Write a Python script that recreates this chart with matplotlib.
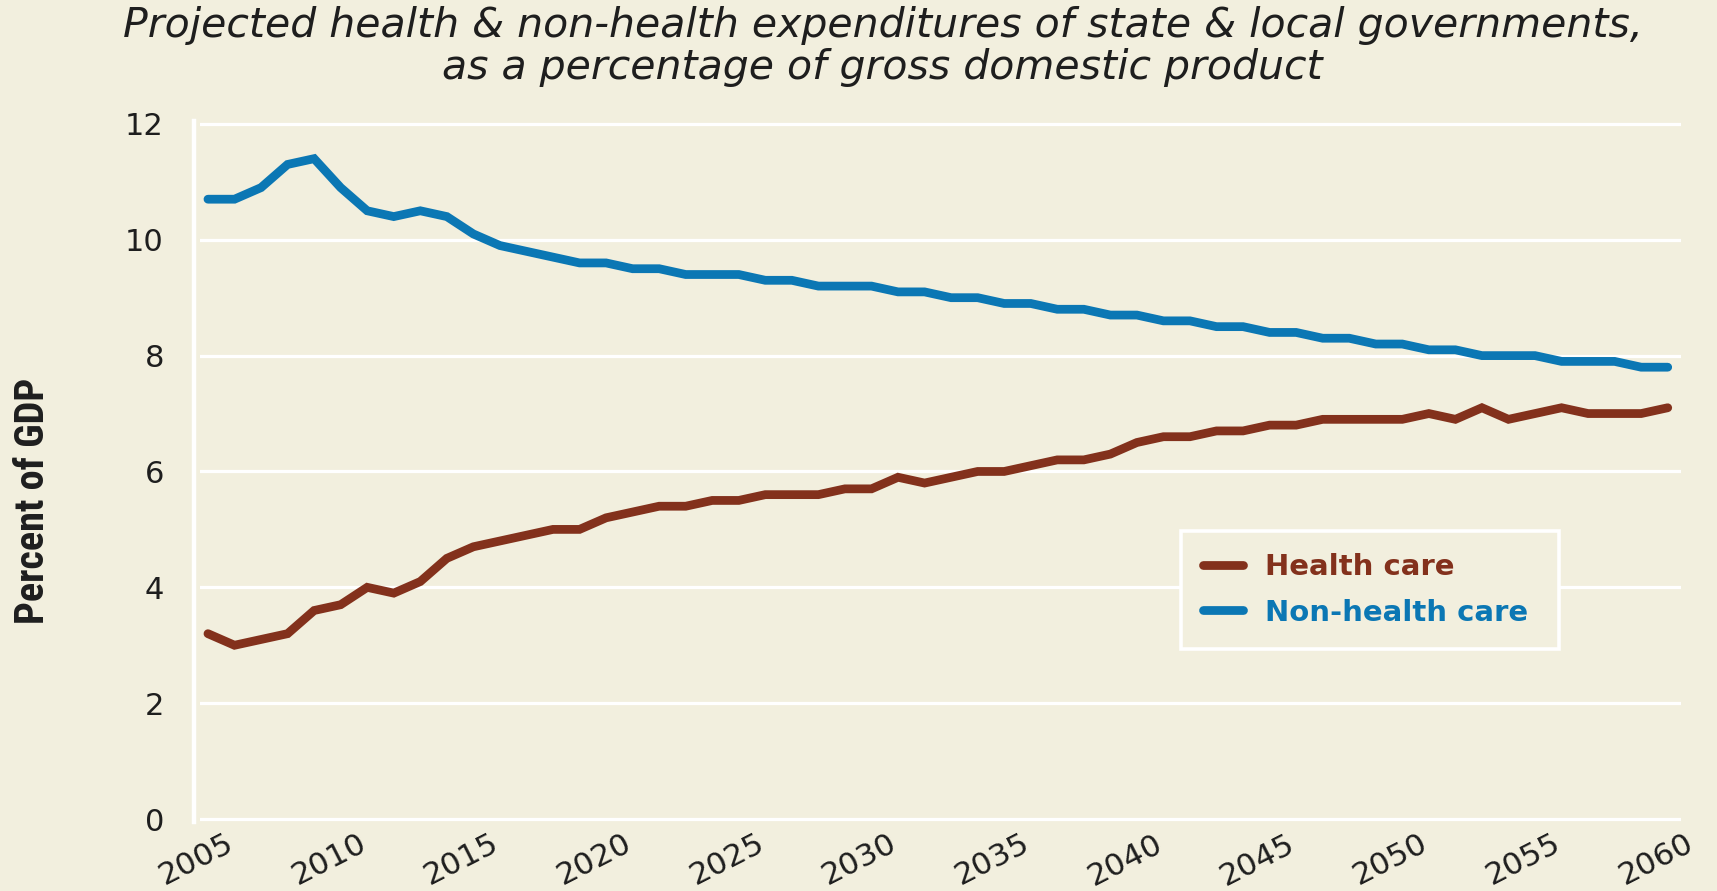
import matplotlib
matplotlib.use('Agg')
import matplotlib.pyplot as plt
from matplotlib.transforms import ScaledTranslation

# ---------------- data ----------------
years = list(range(2005, 2061))

health_care = [3.2, 3.0, 3.1, 3.2, 3.6, 3.7, 4.0, 3.9, 4.1, 4.5,
               4.7, 4.8, 4.9, 5.0, 5.0, 5.2, 5.3, 5.4, 5.4, 5.5,
               5.5, 5.6, 5.6, 5.6, 5.7, 5.7, 5.9, 5.8, 5.9, 6.0,
               6.0, 6.1, 6.2, 6.2, 6.3, 6.5, 6.6, 6.6, 6.7, 6.7,
               6.8, 6.8, 6.9, 6.9, 6.9, 6.9, 7.0, 6.9, 7.1, 6.9,
               7.0, 7.1, 7.0, 7.0, 7.0, 7.1]

non_health_care = [10.7, 10.7, 10.9, 11.3, 11.4, 10.9, 10.5, 10.4, 10.5, 10.4,
                   10.1, 9.9, 9.8, 9.7, 9.6, 9.6, 9.5, 9.5, 9.4, 9.4,
                   9.4, 9.3, 9.3, 9.2, 9.2, 9.2, 9.1, 9.1, 9.0, 9.0,
                   8.9, 8.9, 8.8, 8.8, 8.7, 8.7, 8.6, 8.6, 8.5, 8.5,
                   8.4, 8.4, 8.3, 8.3, 8.2, 8.2, 8.1, 8.1, 8.0, 8.0,
                   8.0, 7.9, 7.9, 7.9, 7.8, 7.8]

series_labels = ['Health care', 'Non-health care']
xtick_years = list(range(2005, 2061, 5))
ytick_values = [0, 2, 4, 6, 8, 10, 12]
title_text = ("Projected health & non-health expenditures of state & local governments,\n"
              "as a percentage of gross domestic product")
ylabel_text = "Percent of GDP"

# ---------------- style ----------------
BG = '#F2EFDE'
BROWN = '#83311C'
BLUE = '#0B77B4'
TXT = '#1E1E1E'
W, H = 1717, 891

fig = plt.figure(figsize=(17.17, 8.91), dpi=100, facecolor=BG)
left_px, right_px = 200, 1681
ax = fig.add_axes([left_px / W, 0.0775, (right_px - left_px) / W, 0.8642 - 0.0775])
ax.set_facecolor(BG)

l1, = ax.plot(years, health_care, color=BROWN, lw=6.3,
              solid_capstyle='round', solid_joinstyle='miter', zorder=3,
              label=series_labels[0])
l2, = ax.plot(years, non_health_care, color=BLUE, lw=6.3,
              solid_capstyle='round', solid_joinstyle='miter', zorder=3,
              label=series_labels[1])

ax.set_xlim(2004.7, 2060.5)
ax.set_ylim(-0.05, 12.05)
ax.set_yticks(ytick_values)
ax.set_xticks(xtick_years)
ax.set_xticklabels([str(y) for y in xtick_years])

ax.grid(axis='y', color='white', lw=2.3)
ax.grid(axis='x', visible=False)
ax.set_axisbelow(True)
for s in ['top', 'right', 'bottom']:
    ax.spines[s].set_visible(False)
ax.spines['left'].set_color('white')
ax.spines['left'].set_linewidth(3.2)
ax.spines['left'].set_position(('outward', 4))

ax.tick_params(length=0, colors=TXT)
ax.tick_params(axis='y', pad=22, labelsize=22)
ax.tick_params(axis='x', pad=5, labelsize=22.5)
for lab in ax.get_yticklabels():
    lab.set_family('DejaVu Sans')
for lab in ax.get_xticklabels():
    lab.set_family('DejaVu Sans')
    lab.set_rotation(27)
    lab.set_ha('right')
    lab.set_va('top')
    lab.set_rotation_mode('anchor')
    lab.set_transform(lab.get_transform() + ScaledTranslation(0.17, 0, fig.dpi_scale_trans))

# y label (condensed bold)
ax.set_ylabel(ylabel_text, fontsize=29, fontweight='bold', color=TXT,
              fontstretch='condensed',
              family=['Liberation Sans Narrow', 'DejaVu Sans Condensed',
                      'Roboto Condensed', 'Roboto', 'DejaVu Sans'])
ax.yaxis.label.set_va('center')
ax.yaxis.set_label_coords(33 / W, 1 - 501 / H, transform=fig.transFigure)

# title
fig.text(0.514, 0.993, title_text, ha='center', va='top', fontsize=29.5,
         style='italic', color=TXT, family='DejaVu Sans', linespacing=1.1)

# legend
leg = ax.legend(handles=[l1, l2], loc='upper left',
                bbox_to_anchor=(1181 / W, 1 - 649 / H, 378 / W, 118 / H),
                bbox_transform=fig.transFigure, borderaxespad=0, mode='expand',
                prop={'family': 'DejaVu Sans', 'weight': 'bold', 'size': 21},
                handlelength=1.37, handletextpad=0.75, labelspacing=0.6,
                borderpad=0.76, fancybox=False, framealpha=1,
                facecolor=BG, edgecolor='white')
leg.get_frame().set_linewidth(2.6)
for txt, col in zip(leg.get_texts(), [BROWN, BLUE]):
    txt.set_color(col)

fig.savefig('out.png', dpi=100, facecolor=BG)
